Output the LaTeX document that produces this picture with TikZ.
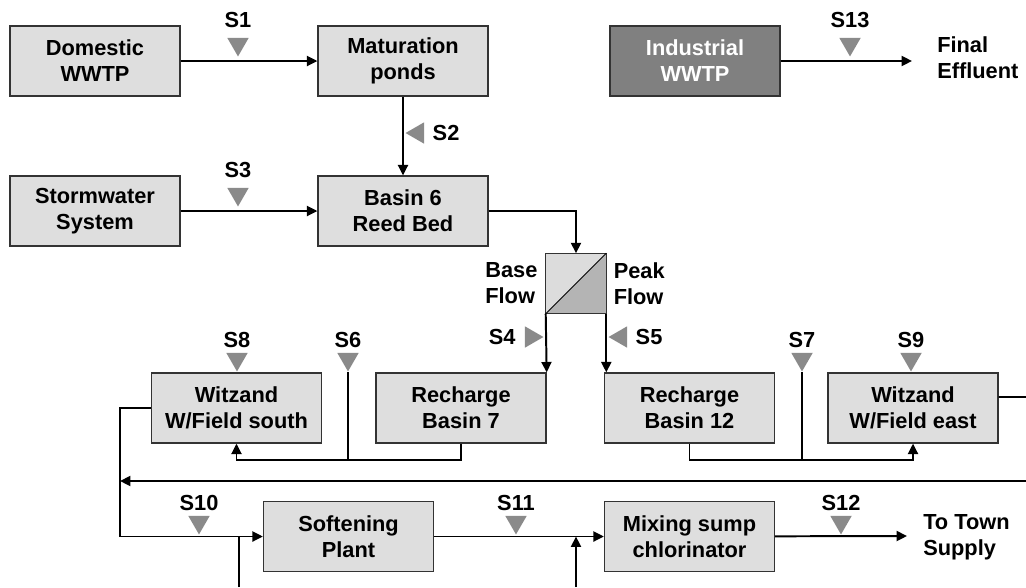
\documentclass[tikz,border=0pt]{standalone}
\usepackage{fontspec}
\setmainfont{Liberation Sans}
\usetikzlibrary{arrows.meta, positioning, shapes.geometric}
\definecolor{boxfill}{HTML}{DEDEDE}
\definecolor{darkfill}{HTML}{808080}
\definecolor{markgray}{HTML}{8A8A8A}
\definecolor{splitlight}{HTML}{DCDCDC}
\definecolor{splitdark}{HTML}{B4B4B4}
\tikzset{
  box/.style={draw=black!80, line width=0.9pt, fill=boxfill, minimum width=4.25cm, minimum height=1.75cm, align=center, inner sep=0pt, font=\fontsize{15.5}{18.5}\selectfont\bfseries},
  darkbox/.style={box, fill=darkfill, text=white},
  flow/.style={-{Triangle[length=2.6mm, width=2.5mm]}, line width=1.4pt},
  pipe/.style={line width=1.4pt},
  marker/.style={regular polygon, regular polygon sides=3, fill=markgray, inner sep=0pt, minimum size=0.62cm, anchor=corner 1},
  tag/.style={font=\fontsize{15.5}{18}\selectfont\bfseries, inner sep=0pt},
  note/.style={font=\fontsize{15.5}{18.5}\selectfont\bfseries, align=left, inner sep=0pt}
}

\begin{document}
\begin{tikzpicture}[x=0.025cm, y=-0.025cm]
\useasboundingbox (0,0) rectangle (1026,587);
\node[box] (dom) at (95,61) {Domestic\\WWTP};
\node[box] (mat) at (403,61) {Maturation\\ponds};
\node[darkbox] (ind) at (695,61) {Industrial\\WWTP};
\node[box] (storm) at (95,211) {Stormwater\\System};
\node[box] (reed) at (403,211) {Basin 6\\Reed Bed};
\node[box] (wsouth) at (236.5,408) {Witzand\\W/Field south};
\node[box] (rb7) at (461,408) {Recharge\\Basin 7};
\node[box] (rb12) at (689.5,408) {Recharge\\Basin 12};
\node[box] (weast) at (913,408) {Witzand\\W/Field east};
\node[box] (soft) at (348.5,536.5) {Softening\\Plant};
\node[box] (mix) at (689.5,536.5) {Mixing sump\\chlorinator};
\node[minimum size=1.5cm, inner sep=0pt] (split) at (576,283.5) {};
\fill[splitlight] (split.north west) -- (split.north east) -- (split.south west) -- cycle;
\fill[splitdark] (split.north east) -- (split.south east) -- (split.south west) -- cycle;
\draw[black!80, line width=0.9pt] (split.north west) rectangle (split.south east);
\draw[line width=0.6pt] (split.south west) -- (split.north east);
\node[note, left=0.2cm of split] (base) {Base\\Flow};
\node[note, right=0.18cm of split] (peak) {Peak\\Flow};
\node[note, anchor=west] (fin) at (937,58) {Final\\Effluent};
\node[note, anchor=west] (town) at (923,537) {To Town\\Supply};
\coordinate (fe) at (912,61);
\coordinate (j6) at (348,460);
\coordinate (j7) at (802,460);
\coordinate (wl) at (120,408);
\coordinate (eout) at (1026,397);
\coordinate (rin) at (1026,481);
\coordinate (b1) at (239,587);
\coordinate (b2) at (576,587);
\coordinate (ts) at (907,536);
\draw[flow] (dom) -- (mat);
\draw[flow] (mat) -- (reed);
\draw[flow] (storm) -- (reed);
\draw[flow] (reed.east) -| (split.north);
\draw[flow] (ind) -- (fe);
\draw[flow] (split.south west) -- (rb7.north east);
\draw[flow] (split.south east) -- (split.south east |- rb12.north);
\draw[pipe] (rb7.south) |- (j6);
\draw[flow] (j6) -| (wsouth.south);
\draw[pipe] (rb12.south) |- (j7);
\draw[flow] (j7) -| (weast.south);
\draw[pipe] ([yshift=0.275cm]weast.east) -- (eout);
\draw[flow] (rin) -- (rin -| wl);
\draw[flow] (wsouth.west) -- (wl) |- (soft.west);
\draw[flow] (soft) -- (mix);
\draw[pipe] (b1) -- (b1 |- soft.west);
\draw[flow] (b2) -- (b2 |- mix.west);
\draw[flow] (mix) -- (ts);
\node[marker, shape border rotate=180, label={[tag, label distance=0.24cm]above:S1}] (s1) at (238,57) {};
\node[marker, shape border rotate=90, label={[tag, label distance=0.2cm]right:S2}] (s2) at (405,133) {};
\node[marker, shape border rotate=180, label={[tag, label distance=0.24cm]above:S3}] (s3) at (238,207) {};
\node[marker, shape border rotate=180, label={[tag, label distance=0.24cm]above:S13}] (s13) at (850,57) {};
\node[marker, shape border rotate=-90, label={[tag, label distance=0.22cm]left:S4}] (s4) at (544,337) {};
\node[marker, shape border rotate=90, label={[tag, label distance=0.2cm]right:S5}] (s5) at (608,337) {};
\node[marker, shape border rotate=180, label={[tag, label distance=0.12cm]above:S8}] (s8) at (237,372) {};
\node[marker, shape border rotate=180, label={[tag, label distance=0.12cm]above:S6}] (s6) at (348,372) {};
\node[marker, shape border rotate=180, label={[tag, label distance=0.12cm]above:S7}] (s7) at (802,372) {};
\node[marker, shape border rotate=180, label={[tag, label distance=0.12cm]above:S9}] (s9) at (911,372) {};
\node[marker, shape border rotate=180, label={[tag, label distance=0.12cm]above:S10}] (s10) at (199,535) {};
\node[marker, shape border rotate=180, label={[tag, label distance=0.12cm]above:S11}] (s11) at (516,535) {};
\node[marker, shape border rotate=180, label={[tag, label distance=0.12cm]above:S12}] (s12) at (841,535) {};
\draw[pipe] (s6.corner 1) -- (j6);
\draw[pipe] (s7.corner 1) -- (j7);
\end{tikzpicture}
\end{document}
